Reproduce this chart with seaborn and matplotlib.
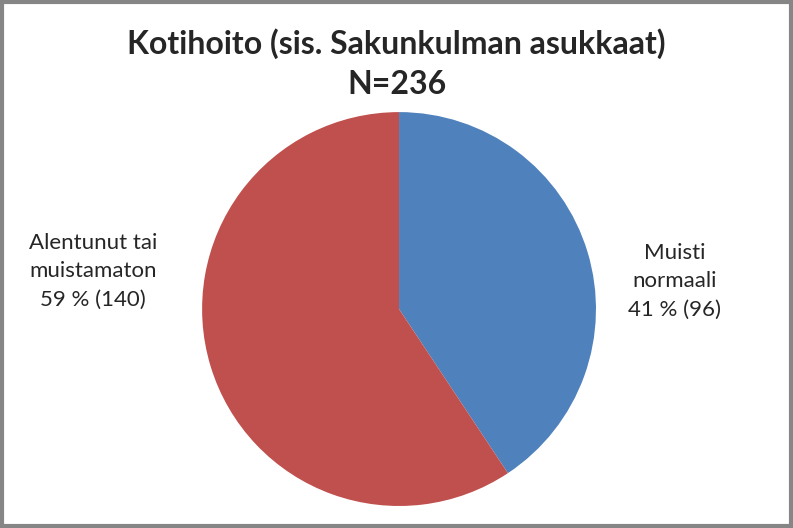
import matplotlib.pyplot as plt
import seaborn as sns

sns.set_style("white")
plt.rcParams["font.family"] = ["Lato", "DejaVu Sans"]

# Data
categories = ["Muisti\nnormaali", "Alentunut tai\nmuistamaton"]
counts = [96, 140]
percents = [41, 59]
colors = ["#4F81BD", "#C0504D"]
title_text = "Kotihoito (sis. Sakunkulman asukkaat)\nN=236"

fig = plt.figure(figsize=(7.93, 5.28), dpi=100)
ax = fig.add_axes([0.2547, 0.0417, 0.497, 0.746])

ax.pie(counts, colors=colors, startangle=90, counterclock=False,
       wedgeprops=dict(linewidth=0))
ax.set_xlim(-1, 1)
ax.set_ylim(-1, 1)
ax.set_aspect("equal")

# Labels outside the pie
label_pos = [(0.851, 0.467), (0.117, 0.486)]
for cat, pct, n, (x, y) in zip(categories, percents, counts, label_pos):
    fig.text(x, y, f"{cat}\n{pct} % ({n})", ha="center", va="center",
             fontsize=16, linespacing=1.55)

fig.text(0.5, 0.88, title_text, ha="center", va="center",
         fontsize=23, fontweight="bold", linespacing=1.45)

# Grey chart border
border = plt.Rectangle((0.002, 0.003), 0.996, 0.994, transform=fig.transFigure,
                       fill=False, edgecolor="#868686", linewidth=3)
fig.patches.append(border)

fig.savefig("out.png", dpi=100)
